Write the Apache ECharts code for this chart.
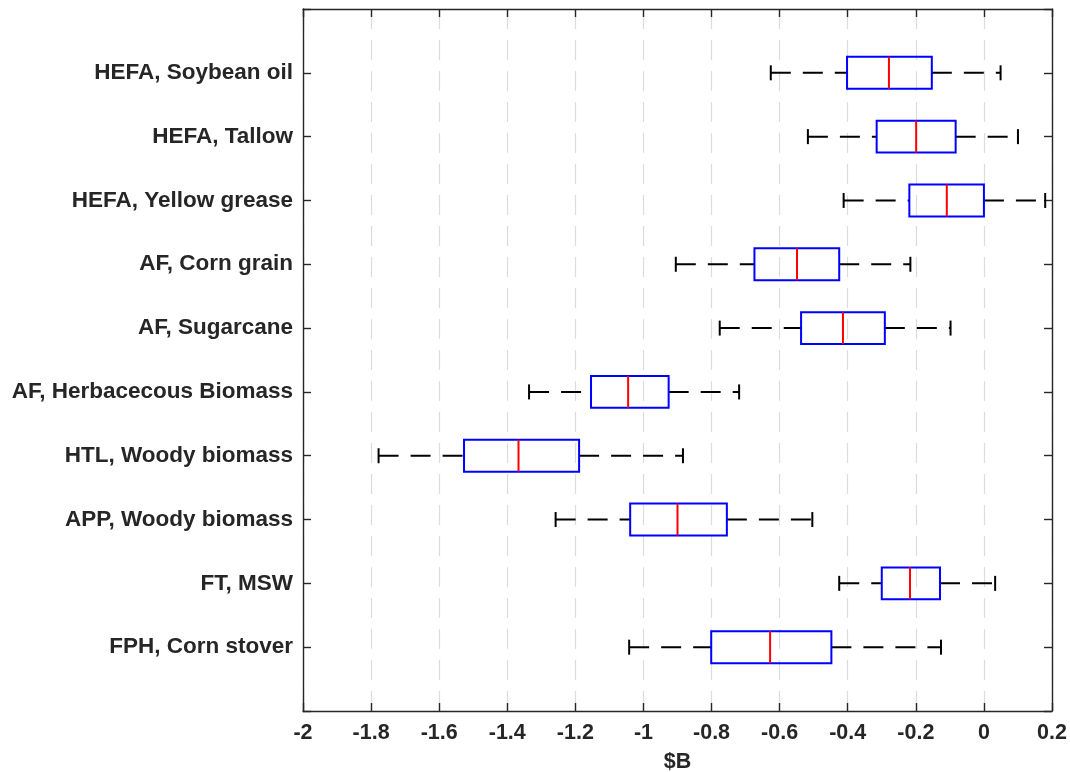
<!DOCTYPE html>
<html>
<head>
<meta charset="utf-8">
<script src="https://cdn.jsdelivr.net/npm/echarts@6/dist/echarts.min.js"></script>
<style>html,body{margin:0;padding:0;background:#fff;}#c{width:1070px;height:772px;}</style>
</head>
<body>
<div id="c"></div>
<script>
const categories = ['HEFA, Soybean oil', 'HEFA, Tallow', 'HEFA, Yellow grease', 'AF, Corn grain', 'AF, Sugarcane', 'AF, Herbacecous Biomass', 'HTL, Woody biomass', 'APP, Woody biomass', 'FT, MSW', 'FPH, Corn stover'];
const whiskerLow = [-0.626, -0.517, -0.412, -0.905, -0.776, -1.336, -1.778, -1.258, -0.425, -1.042];
const q1 = [-0.402, -0.315, -0.219, -0.674, -0.537, -1.154, -1.527, -1.039, -0.300, -0.801];
const median = [-0.279, -0.199, -0.109, -0.549, -0.414, -1.045, -1.367, -0.900, -0.217, -0.628];
const q3 = [-0.153, -0.083, 0.0, -0.425, -0.291, -0.926, -1.189, -0.755, -0.129, -0.448];
const whiskerHigh = [0.049, 0.100, 0.180, -0.216, -0.098, -0.719, -0.884, -0.504, 0.033, -0.126];
const xTicks = [-2, -1.8, -1.6, -1.4, -1.2, -1, -0.8, -0.6, -0.4, -0.2, 0, 0.2];

const data = categories.map((c, i) => [i + 1, whiskerLow[i], q1[i], median[i], q3[i], whiskerHigh[i]]);

const txt = '#262626';
const font = 'Liberation Sans, Arial, Helvetica, sans-serif';

const chart = echarts.init(document.getElementById('c'), null, {renderer: 'canvas'});

function renderItem(params, api) {
  const y = api.value(0);
  const lo = api.coord([api.value(1), y]);
  const a = api.coord([api.value(2), y]);
  const m = api.coord([api.value(3), y]);
  const b = api.coord([api.value(4), y]);
  const hi = api.coord([api.value(5), y]);
  const top = api.coord([0, y - 0.25])[1];
  const bot = api.coord([0, y + 0.25])[1];
  const cy = lo[1];
  const capH = 7.5;
  const wStyle = {stroke: '#000', lineWidth: 2, lineDash: [20, 12], fill: null};
  const sStyle = {stroke: '#000', lineWidth: 2, fill: null};
  return {
    type: 'group',
    children: [
      {type: 'line', shape: {x1: lo[0], y1: cy, x2: a[0], y2: cy}, style: wStyle},
      {type: 'line', shape: {x1: b[0], y1: cy, x2: hi[0], y2: cy}, style: wStyle},
      {type: 'line', shape: {x1: lo[0], y1: cy - capH, x2: lo[0], y2: cy + capH}, style: sStyle},
      {type: 'line', shape: {x1: hi[0], y1: cy - capH, x2: hi[0], y2: cy + capH}, style: sStyle},
      {type: 'rect', shape: {x: a[0], y: top, width: b[0] - a[0], height: bot - top}, style: {stroke: '#0000ff', lineWidth: 2, fill: 'rgba(0,0,0,0)'}},
      {type: 'line', shape: {x1: m[0], y1: top, x2: m[0], y2: bot}, style: {stroke: '#ff0000', lineWidth: 2}}
    ]
  };
}

const axisLineStyle = {show: true, onZero: false, lineStyle: {color: txt, width: 1.4}};
const tickStyle = {show: true, inside: true, length: 8, lineStyle: {color: txt, width: 1.4}};

const option = {
  animation: false,
  backgroundColor: '#fff',
  grid: {left: 303, right: 18, top: 9, bottom: 61, containLabel: false, outerBoundsMode: 'none'},
  xAxis: [{
    type: 'value', min: -2, max: 0.2, interval: 0.2, position: 'bottom',
    name: '$B', nameLocation: 'middle', nameGap: 40,
    nameTextStyle: {color: txt, fontSize: 21.5, fontWeight: 'bold', fontFamily: font},
    axisLine: axisLineStyle,
    axisTick: tickStyle,
    axisLabel: {color: txt, fontSize: 21.5, fontWeight: 'bold', fontFamily: font, margin: 11,
      formatter: v => String(parseFloat(v.toFixed(1)))},
    splitLine: {show: true, lineStyle: {color: '#dcdcdc', width: 1.2, type: [20, 11]}}
  }, {
    type: 'value', min: -2, max: 0.2, interval: 0.2, position: 'top',
    axisLine: axisLineStyle,
    axisTick: tickStyle,
    axisLabel: {show: false}, splitLine: {show: false}
  }],
  yAxis: [{
    type: 'value', min: 0, max: 11, interval: 1, inverse: true, position: 'left',
    axisLine: axisLineStyle,
    axisTick: tickStyle,
    axisLabel: {color: txt, fontSize: 22.5, fontWeight: 'bold', fontFamily: font, margin: 10,
      formatter: v => (v >= 1 && v <= categories.length) ? categories[v - 1] : ''},
    splitLine: {show: false}
  }, {
    type: 'value', min: 0, max: 11, interval: 1, inverse: true, position: 'right',
    axisLine: axisLineStyle,
    axisTick: tickStyle,
    axisLabel: {show: false}, splitLine: {show: false}
  }],
  series: [{
    type: 'custom',
    renderItem: renderItem,
    encode: {x: [1, 2, 3, 4, 5], y: 0},
    xAxisIndex: 0, yAxisIndex: 0,
    data: data,
    clip: false
  }]
};
chart.setOption(option);
</script>
</body>
</html>
